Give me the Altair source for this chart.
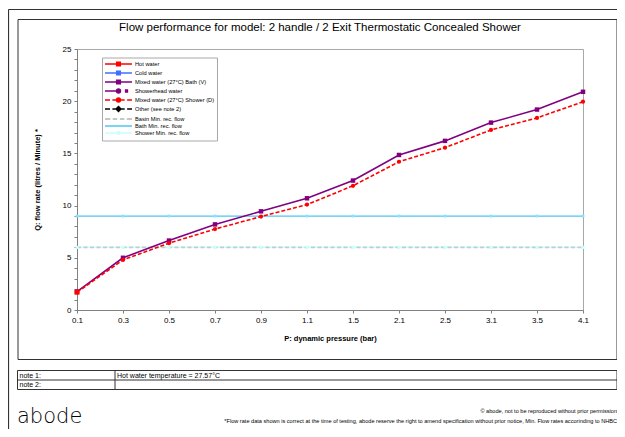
import altair as alt
import pandas as pd

# ---------------- data ----------------
pressure = ["0.1", "0.3", "0.5", "0.7", "0.9", "1.1", "1.5", "2.1", "2.5", "3.1", "3.5", "4.1"]
bath_v = [1.75, 5.0, 6.65, 8.2, 9.45, 10.7, 12.4, 14.85, 16.2, 17.95, 19.2, 20.9]
shower_d = [1.7, 4.8, 6.4, 7.75, 8.95, 10.1, 11.9, 14.2, 15.55, 17.25, 18.4, 19.95]
hot_p = ["0.1"]
hot_q = [1.7]
bath_min = [9, 9, 9, 9, 9, 9, 9, 9, 9, 9, 9, 9]
basin_min = [6, 6, 6, 6, 6, 6, 6, 6, 6, 6, 6, 6]
shower_min = [6, 6, 6, 6, 6, 6, 6, 6, 6, 6, 6, 6]

legend_series = [
    "Hot water",
    "Cold water",
    "Mixed water (27°C) Bath (V)",
    "Showerhead water",
    "Mixed water (27°C) Shower (D)",
    "Other (see note 2)",
    "Basin Min. rec. flow",
    "Bath Min. rec. flow",
    "Shower Min. rec. flow",
]
legend_colors = ["#ff0000", "#3f6fff", "#800080", "#800080", "#ff0000",
                 "#000000", "#b4b4b4", "#4cc6f2", "#c8ffff"]

title_text = "Flow performance for model: 2 handle / 2 Exit Thermostatic Concealed Shower"
x_title = "P: dynamic pressure (bar)"
y_title = "Q: flow rate (litres / Minute) *"
note1_label = "note 1:"
note1_text = "Hot water temperature = 27.57°C"
note2_label = "note 2:"
logo_text = "abode"
copyright_text = "© abode, not to be reproduced without prior permission"
footer_text = ("*Flow rate data shown is correct at the time of testing, abode reserve the right to amend "
               "specification without prior notice, Min. Flow rates accorinding to NHBC")

FONT = "Liberation Sans"

# legend symbol shapes (custom paths: line + marker); 1 unit = 3px at symbolSize 36
SOLID = "M-1.17,0H7.83"
SQ = "M2.73,-0.6H3.93V0.6H2.73Z"
CI = "M2.68,0A0.65,0.65,0,1,0,3.98,0A0.65,0.65,0,1,0,2.68,0Z"
DI = "M3.33,-0.8L4.13,0L3.33,0.8L2.53,0Z"
DASH = "M-1.17,0H0.5M1.3,0H2.6M4.1,0H5.4M6.2,0H7.83"
GDASH = "M-1.17,0H0.6M1.4,0H2.9M3.8,0H5.3M6.1,0H7.83"
legend_paths = [
    SOLID + SQ,
    SOLID + SQ,
    SOLID + SQ,
    "M-1.17,0H3.33" + CI + "M5.7,-0.3H6.3V0.3H5.7Z",
    DASH + CI,
    DASH + DI,
    GDASH,
    SOLID,
    SOLID + "M3.0,-0.35H3.66V0.35H3.0Z",
]

# ---------------- encodings ----------------
x_enc = alt.X(
    "p:O", sort=pressure, title=x_title,
    scale=alt.Scale(type="point", padding=0, domain=pressure),
    axis=alt.Axis(labelAngle=0, tickSize=3, labelPadding=3, labelFontSize=8, labelFont=FONT,
                  titleFont=FONT, titleFontSize=7.5, titleFontWeight="bold", titlePadding=10,
                  titleColor="#000000",
                  domainColor="#808080", tickColor="#808080", labelColor="#000000", grid=False),
)
y_enc = alt.Y(
    "q:Q", title=y_title,
    scale=alt.Scale(domain=[0, 25], nice=False),
    axis=alt.Axis(values=list(range(0, 26)), labelExpr="datum.value % 5 == 0 ? datum.label : ''",
                  tickSize=3, labelPadding=3, labelFontSize=8, labelFont=FONT,
                  titleFont=FONT, titleFontSize=7.5, titleFontWeight="bold", titlePadding=21,
                  titleColor="#000000",
                  domainColor="#808080", tickColor="#808080", labelColor="#000000", grid=False),
)


def series_df(q):
    return pd.DataFrame({"p": pressure, "q": q})


shower_min_line = alt.Chart(series_df(shower_min)).mark_line(
    color="#c8ffff", strokeWidth=1.5,
).encode(x=x_enc, y=y_enc)

basin_line = alt.Chart(series_df(basin_min)).mark_line(
    color="#c4cccc", strokeWidth=1.8, strokeDash=[4, 2.5]
).encode(x=x_enc, y=y_enc)

shower_min_pts = alt.Chart(series_df(shower_min)).mark_point(
    shape="square", size=10, filled=True, color="#c8ffff", opacity=1
).encode(x=x_enc, y=y_enc)

bath_min_line = alt.Chart(series_df(bath_min)).mark_line(
    color="#4cc6f2", strokeWidth=1.3,
    point=alt.OverlayMarkDef(shape="square", size=8, filled=True, color="#8ee0ff", opacity=1),
).encode(x=x_enc, y=y_enc)

bath_line = alt.Chart(series_df(bath_v)).mark_line(
    color="#800080", strokeWidth=1.6,
    point=alt.OverlayMarkDef(shape="square", size=20, filled=True, color="#800080", opacity=1),
).encode(x=x_enc, y=y_enc)

shower_line = alt.Chart(series_df(shower_d)).mark_line(
    color="#ff0000", strokeWidth=1.6, strokeDash=[4, 2],
    point=alt.OverlayMarkDef(shape="circle", size=18, filled=True, color="#ff0000", opacity=1),
).encode(x=x_enc, y=y_enc)

hot_pts = alt.Chart(pd.DataFrame({"p": hot_p, "q": hot_q})).mark_point(
    shape="square", size=24, filled=True, color="#ff0000", opacity=1
).encode(x=x_enc, y=y_enc)

# legend (built from the scales; no marks drawn)
leg = alt.Legend(
    title=None, orient="none", legendX=25, legendY=8.5,
    strokeColor="#a8a8a8", fillColor="#ffffff", padding=2.5,
    labelFont=FONT, labelFontSize=5.7, labelColor="#000000", labelOffset=22.5, labelLimit=200,
    symbolSize=36, symbolStrokeWidth=1.5, symbolOpacity=1, rowPadding=-2.2,
)
legend_layer = alt.Chart(pd.DataFrame({"series": legend_series})).transform_filter("false").mark_point(
    filled=True, opacity=1
).encode(
    fill=alt.Fill("series:N", scale=alt.Scale(domain=legend_series, range=legend_colors), legend=leg),
    stroke=alt.Stroke("series:N", scale=alt.Scale(domain=legend_series, range=legend_colors), legend=leg),
    shape=alt.Shape("series:N", scale=alt.Scale(domain=legend_series, range=legend_paths), legend=leg),
)


# ---------------- page decorations (frames, notes, footer) ----------------
def text_layer(txt, x, y, size, align="left", weight="normal", font=FONT, baseline="middle"):
    return alt.Chart(pd.DataFrame({"t": [txt]})).mark_text(
        align=align, baseline=baseline, fontSize=size, font=font, fontWeight=weight, color="#000000"
    ).encode(x=alt.value(x), y=alt.value(y), text="t:N")


def box_layer(x, x2, y, y2, color="#333333", width=1):
    return alt.Chart(pd.DataFrame({"t": [0]})).mark_rect(
        fillOpacity=0, stroke=color, strokeWidth=width
    ).encode(x=alt.value(x), x2=alt.value(x2), y=alt.value(y), y2=alt.value(y2))


def rule_layer(x, x2, y, y2, color="#333333", width=1):
    return alt.Chart(pd.DataFrame({"t": [0]})).mark_rule(
        color=color, strokeWidth=width
    ).encode(x=alt.value(x), x2=alt.value(x2), y=alt.value(y), y2=alt.value(y2))


decor = [
    rule_layer(-68.5, 540, -39.5, -39.5, width=1.2),       # outer top
    rule_layer(-68.5, -68.5, -39.5, 380, width=1.2),       # outer left
    box_layer(-59, 540, -29.5, 310.5),                      # chart frame
    box_layer(-59.5, 540, 321.5, 340.5),                    # notes table
    rule_layer(-59.5, 540, 331, 331),
    rule_layer(38, 38, 321.5, 340.5),
    text_layer(title_text, 243, -21, 11.5, align="center"),
    text_layer(note1_label, -57.5, 326.5, 7),
    text_layer(note1_text, 40, 326.5, 7),
    text_layer(note2_label, -57.5, 336, 7),
    text_layer(logo_text, -60, 374, 21, font="DejaVu Sans", weight=200, baseline="alphabetic"),
    text_layer(copyright_text, 540, 362, 5.6, align="right"),
    text_layer(footer_text, 540, 372, 5.6, align="right"),
]

chart = alt.layer(
    shower_min_line, basin_line, shower_min_pts, bath_min_line,
    bath_line, shower_line, hot_pts, legend_layer, *decor
).properties(
    width=506, height=261,
    padding={"left": 69, "top": 41, "right": 34, "bottom": 119},
    autosize=alt.AutoSizeParams(type="none"),
    background="#ffffff",
).configure_view(stroke="#a8a8a8", strokeWidth=1)

chart.save("out.html", embed_options={"renderer": "svg", "actions": False})
